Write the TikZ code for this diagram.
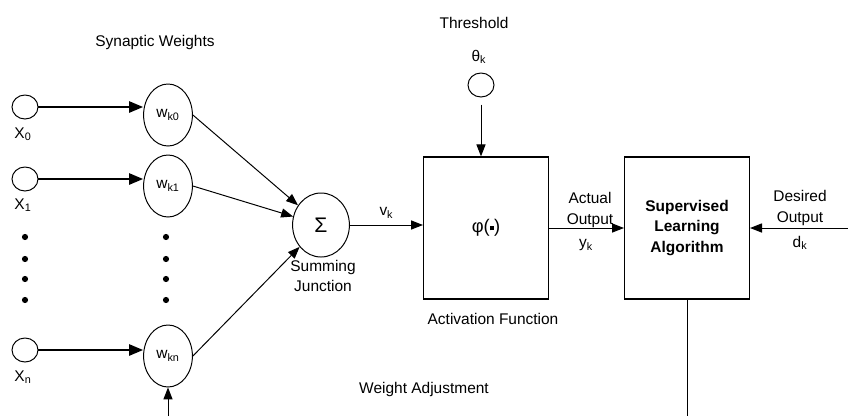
\documentclass[tikz,border=0pt]{standalone}
\usepackage{fontspec}
\setmainfont{Liberation Sans}
\usetikzlibrary{shapes.geometric,arrows.meta,positioning}

\begin{document}
\begin{tikzpicture}[
    x=0.025cm, y=-0.025cm,
    every node/.style={font=\fontsize{11}{14.8}\selectfont},
    input/.style={ellipse, draw, line width=0.7pt, minimum width=0.65cm, minimum height=0.6cm, inner sep=0pt},
    weight/.style={ellipse, draw, line width=0.7pt, minimum width=1.22cm, minimum height=1.55cm, inner sep=0pt},
    summer/.style={ellipse, draw, line width=0.7pt, minimum width=1.42cm, minimum height=1.6cm, inner sep=0pt},
    block/.style={draw, line width=0.9pt, minimum width=3.12cm, minimum height=3.55cm, inner sep=0pt, align=center},
    feed/.style={-{Triangle[length=10pt, width=8pt]}, line width=1.4pt},
    signal/.style={-{Triangle[length=8.5pt, width=6.5pt]}, line width=0.7pt},
    label/.style={align=center},
]
\useasboundingbox (0,0) rectangle (848,416);

% === Inputs ===
\node[label] (synlbl) at (155,42) {Synaptic Weights};

\node[input] (x0) at (25,107) {};
\node (x0lbl) at (23,134) {X\textsubscript{0}};
\node[input] (x1) at (25,179) {};
\node (x1lbl) at (23,205) {X\textsubscript{1}};
\node[input] (xn) at (25,350) {};
\node (xnlbl) at (23,377) {X\textsubscript{n}};

% dots between inputs and weights
\foreach \y in {237,259,279,300} {
    \fill (25,\y) circle (2.2pt);
    \fill (166,\y) circle (2.2pt);
}

% === Synaptic weights ===
\node[weight] (wk0) at (168,115) {w\textsubscript{k0}};
\node[weight] (wk1) at (168,186) {w\textsubscript{k1}};
\node[weight] (wkn) at (168,356) {w\textsubscript{kn}};

\draw[feed] (x0.east) -- (x0.east -| wk0.west);
\draw[feed] (x1.east) -- (x1.east -| wk1.west);
\draw[feed] (xn.east) -- (xn.east -| wkn.west);

% === Summing junction ===
\node[summer, font=\fontsize{15}{18}\selectfont] (sum) at (321,225) {Σ};
\node[label] (sumlbl) at (323,276) {Summing\\Junction};

\draw[signal] (wk0.east) -- (sum);
\draw[signal] (wk1.east) -- (sum);
\draw[signal] (wkn.east) -- (sum);

% === Activation function ===
\node[block, font=\fontsize{13}{16}\selectfont] (act) at (486,228)
    {φ(\raisebox{0.25ex}{\rule{0.24em}{0.24em}})};
\node[label] (actlbl) at (493,319) {Activation Function};
\draw[signal] (sum.east) -- (sum.east -| act.west)
    node[midway, above, yshift=1pt] {v\textsubscript{k}};

% Threshold
\node[label] (thrlbl) at (474,23) {Threshold};
\node (thetalbl) at (479,57) {θ\textsubscript{k}};
\node[input] (theta) at (481,85) {};
\draw[signal, shorten <=5pt] (theta.south) -- (theta.south |- act.north);

% === Supervised learning ===
\node[block, font=\fontsize{11}{14.8}\selectfont\bfseries] (sup) at (687,228)
    {Supervised\\Learning\\Algorithm};

\draw[signal] (act.east) -- (sup.west);
\node[label] (actout) at (590,210) {Actual\\Output};
\node (yk) at (586,245) {y\textsubscript{k}};

\coordinate (desin) at (848,228);
\draw[signal] (desin) -- (sup.east);
\node[label] (desout) at (800,208) {Desired\\Output};
\node (dk) at (800,243) {d\textsubscript{k}};

% === Weight adjustment feedback ===
\node[label] (adjlbl) at (424,389) {Weight Adjustment};
\coordinate (adjout) at (sup.south |- 0,416);
\draw[line width=0.7pt] (sup.south) -- (adjout);
\coordinate (adjin) at (wkn.south |- 0,416);
\draw[signal] (adjin) -- (wkn.south);

\end{tikzpicture}
\end{document}
